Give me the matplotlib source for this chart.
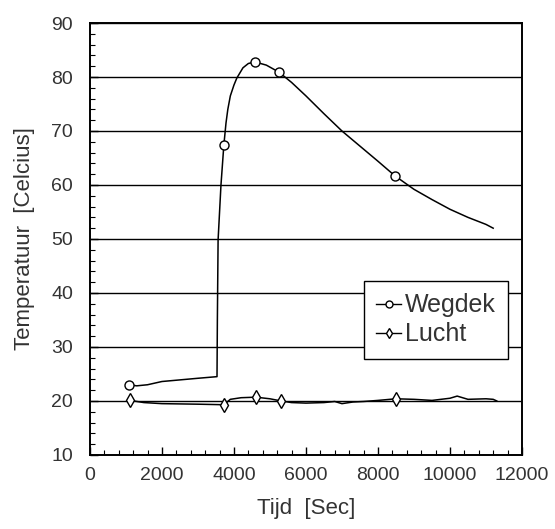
import numpy as np
import matplotlib.pyplot as plt
from matplotlib.ticker import MultipleLocator

plt.rcParams['font.family'] = ['Liberation Sans', 'DejaVu Sans']

# Wegdek (road surface) temperature curve
weg_t = [1080, 1300, 1600, 2000, 2500, 3000, 3530, 3540, 3560, 3640, 3720,
         3780, 3830, 3900, 4000, 4080, 4250, 4400, 4580, 4900, 5250, 5600,
         6000, 6500, 7000, 7500, 8000, 8470, 9000, 9500, 10000, 10500,
         11000, 11200]
weg_T = [23.0, 22.8, 23.0, 23.6, 23.9, 24.2, 24.5, 35.0, 49.8, 60.0, 67.4,
         71.5, 74.0, 76.5, 78.5, 79.8, 81.7, 82.5, 82.8, 82.2, 80.9, 79.0,
         76.5, 73.2, 70.0, 67.2, 64.4, 61.7, 59.2, 57.3, 55.5, 54.0,
         52.7, 52.0]
weg_mark_t = [1080, 3720, 4580, 5250, 8470]
weg_mark_T = [23.0, 67.4, 82.8, 80.9, 61.7]

# Lucht (air) temperature curve
lucht_t = [1110, 1500, 2000, 3000, 3720, 3900, 4200, 4610, 5000, 5310, 5600,
           6000, 6500, 6800, 7000, 7300, 7600, 8000, 8500, 9000, 9500, 10000,
           10200, 10500, 11000, 11200, 11300]
lucht_T = [20.1, 19.7, 19.5, 19.4, 19.3, 20.3, 20.6, 20.7, 20.4, 20.0, 19.7,
           19.6, 19.7, 19.9, 19.5, 19.8, 19.9, 20.1, 20.4, 20.3, 20.1, 20.5,
           20.9, 20.3, 20.4, 20.3, 20.0]
lucht_mark_t = [1110, 3720, 4610, 5310, 8500]
lucht_mark_T = [20.1, 19.3, 20.7, 20.0, 20.4]

fig = plt.figure(figsize=(5.55, 5.29), dpi=100)
ax = fig.add_axes([0.162, 0.14, 0.7785, 0.8165])

ax.plot(weg_t, weg_T, color='black', lw=1.1, zorder=3)
ax.plot(weg_mark_t, weg_mark_T, 'o', mfc='white', mec='black', ms=6.5, mew=1.0, zorder=4)
ax.plot(lucht_t, lucht_T, color='black', lw=1.1, zorder=3)
ax.plot(lucht_mark_t, lucht_mark_T, 'd', mfc='white', mec='black', ms=7, mew=1.0, zorder=4)

# legend proxies
h1, = ax.plot([], [], '-o', color='black', mfc='white', mec='black', ms=5, lw=1.0)
h2, = ax.plot([], [], '-d', color='black', mfc='white', mec='black', ms=5, lw=1.0)

ax.set_xlim(0, 12000)
ax.set_ylim(10, 90)
ax.xaxis.set_major_locator(MultipleLocator(2000))
ax.xaxis.set_minor_locator(MultipleLocator(400))
ax.yaxis.set_major_locator(MultipleLocator(10))
ax.yaxis.set_minor_locator(MultipleLocator(2))
ax.tick_params(which='both', direction='in', top=False, right=False, colors='black')
ax.tick_params(which='major', length=6, width=1.0, labelsize=14, labelcolor='#333333')
ax.tick_params(which='minor', length=3.5, width=0.8)
ax.tick_params(axis='y', which='major', pad=12)
ax.tick_params(axis='x', which='major', pad=9)

ax.grid(axis='y', which='major', color='black', lw=1.0)
for s in ax.spines.values():
    s.set_linewidth(1.4)

ax.set_xlabel('Tijd  [Sec]', fontsize=16, color='#333333', labelpad=10)
ax.set_ylabel('Temperatuur  [Celcius]', fontsize=16, color='#333333', labelpad=12)

leg = ax.legend([h1, h2], ['Wegdek', 'Lucht'], loc='upper left',
                bbox_to_anchor=(0.634, 0.403), borderaxespad=0, fontsize=18,
                handlelength=1.0, handletextpad=0.15, labelspacing=0.2,
                borderpad=0.5, fancybox=False, framealpha=1, edgecolor='black')
leg.get_frame().set_linewidth(1.0)
for t in leg.get_texts():
    t.set_color('#333333')

fig.savefig('out.png', dpi=100)
